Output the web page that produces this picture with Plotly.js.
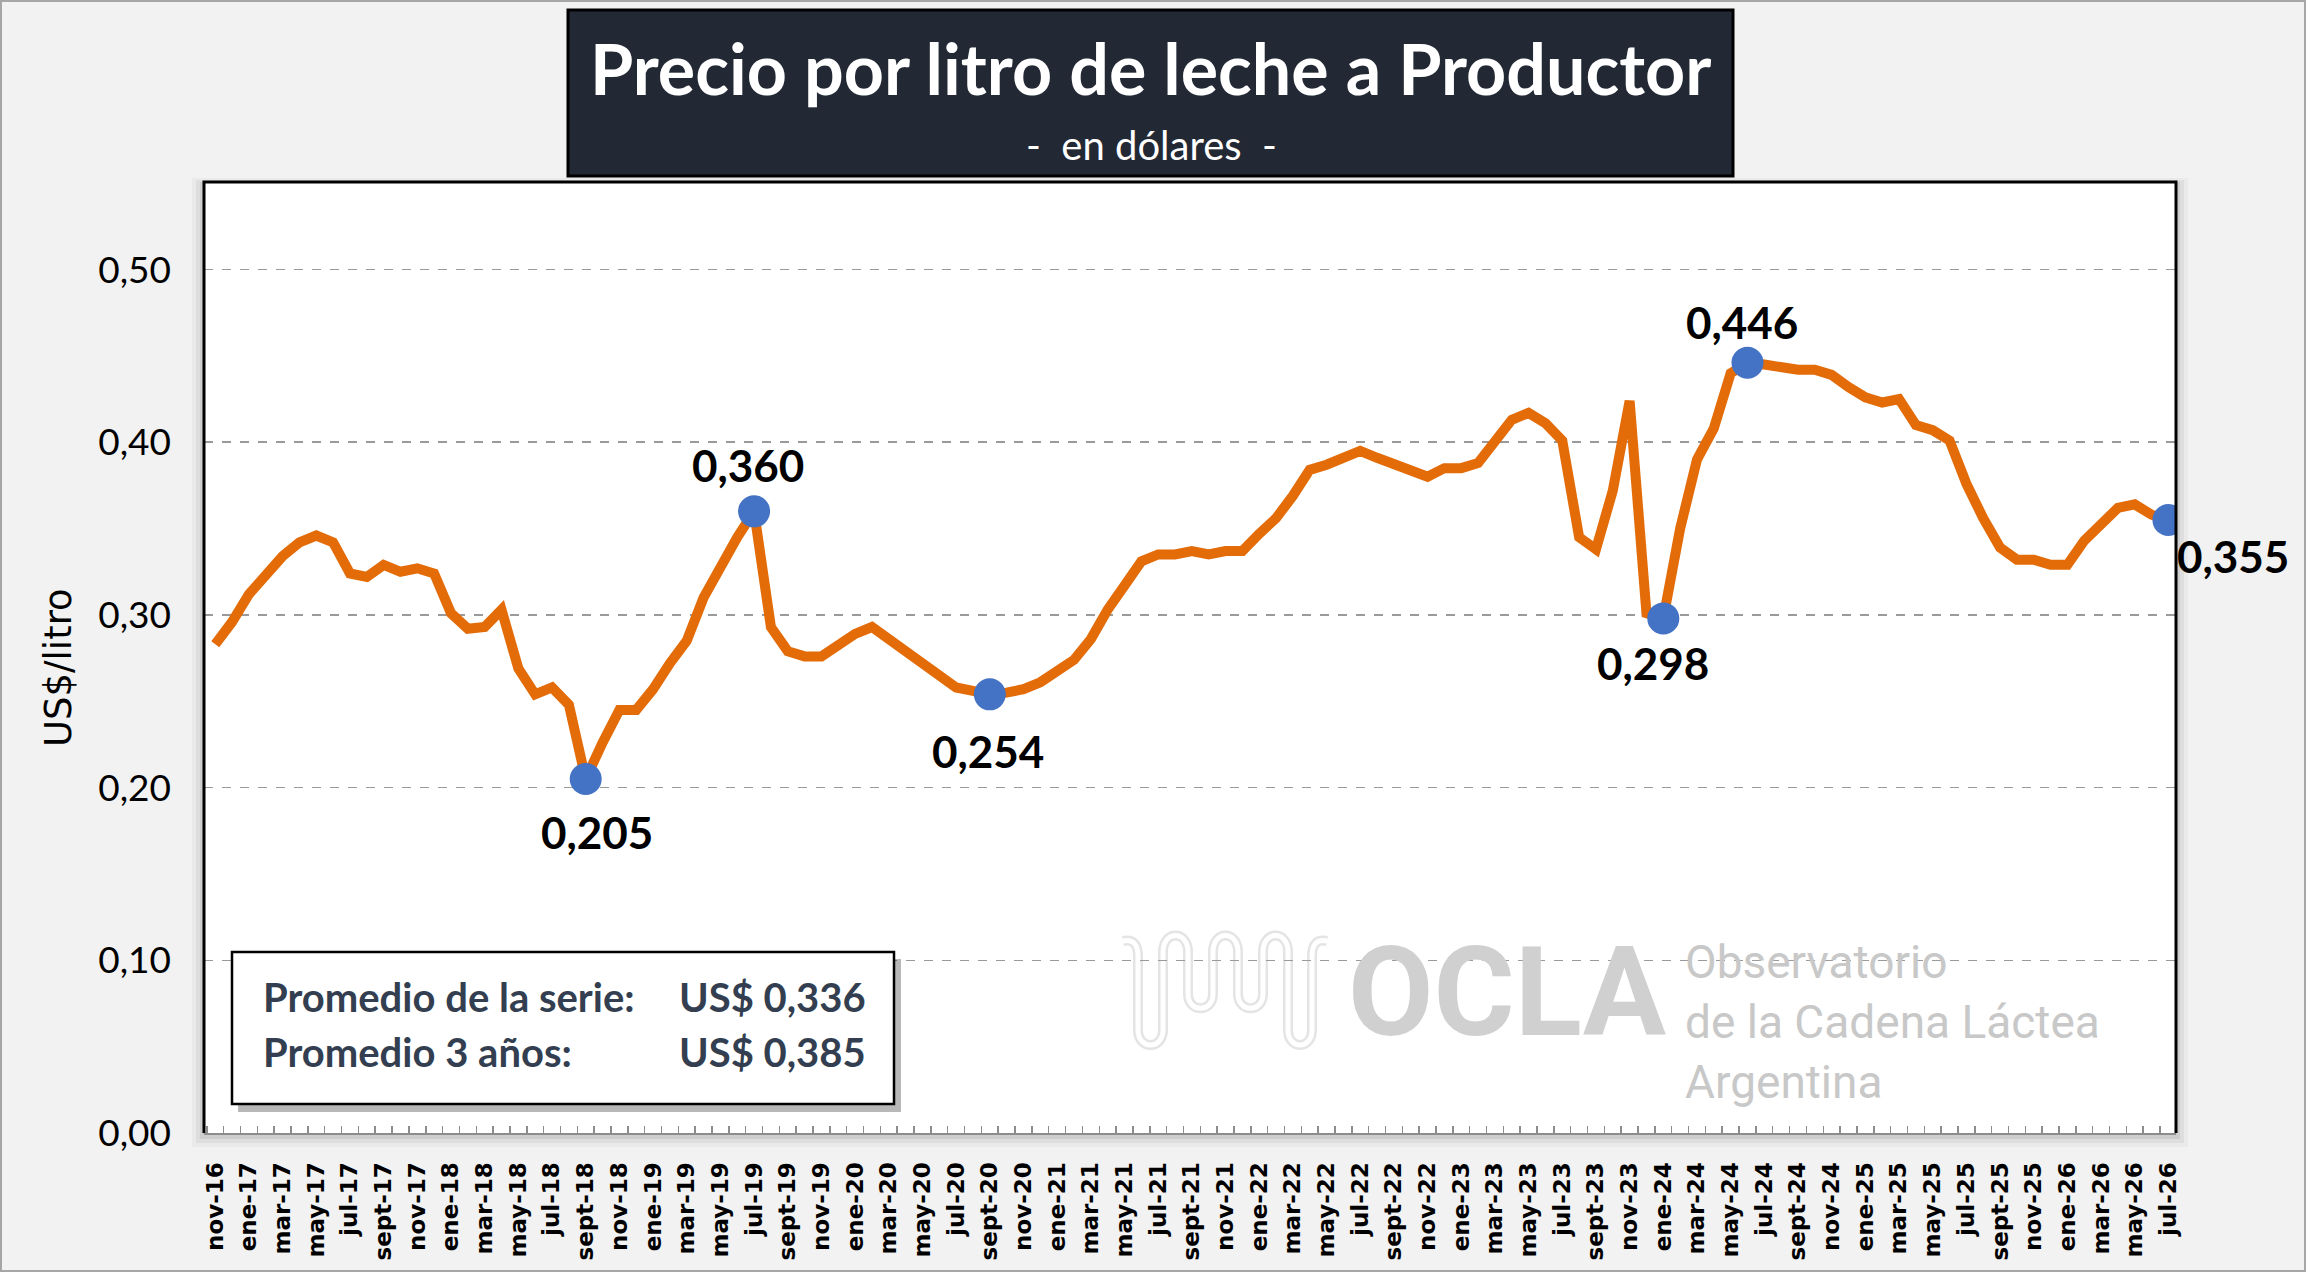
<!DOCTYPE html>
<html>
<head>
<meta charset="utf-8">
<script src="https://cdn.plot.ly/plotly-3.0.1.min.js"></script>
<style>
  html, body { margin: 0; padding: 0; background: #f2f2f2; }
  #chart { width: 2306px; height: 1272px; }
</style>
</head>
<body>
<div id="chart"></div>
<script>
// monthly series, nov-16 .. jul-26 (US$ per litre)
const monthNames = ['ene', 'feb', 'mar', 'abr', 'may', 'jun', 'jul', 'ago', 'sept', 'oct', 'nov', 'dic'];
const startMonth = 10;   // nov
const startYear = 16;
const prices = [
  0.283, 0.296, 0.312, 0.324, 0.334, 0.342, 0.346, 0.342, 0.324, 0.322,
  0.329, 0.325, 0.327, 0.324, 0.301, 0.292, 0.293, 0.303, 0.269, 0.254,
  0.258, 0.248, 0.205, 0.226, 0.245, 0.245, 0.257, 0.272, 0.285, 0.310,
  0.328, 0.345, 0.360, 0.293, 0.279, 0.276, 0.276, 0.282, 0.289, 0.293,
  0.286, 0.278, 0.271, 0.264, 0.258, 0.256, 0.254, 0.255, 0.257, 0.261,
  0.267, 0.274, 0.286, 0.303, 0.317, 0.331, 0.335, 0.335, 0.337, 0.335,
  0.337, 0.337, 0.347, 0.356, 0.369, 0.384, 0.387, 0.391, 0.395, 0.391,
  0.387, 0.384, 0.380, 0.385, 0.385, 0.388, 0.401, 0.413, 0.417, 0.411,
  0.401, 0.345, 0.338, 0.372, 0.424, 0.301, 0.298, 0.350, 0.390, 0.408,
  0.440, 0.446, 0.445, 0.443, 0.442, 0.442, 0.439, 0.432, 0.426, 0.423,
  0.425, 0.410, 0.407, 0.401, 0.376, 0.356, 0.339, 0.332, 0.332, 0.329,
  0.329, 0.343, 0.352, 0.362, 0.364, 0.358, 0.355
];
// points marked with a dot and a value label
const highlightIdx = [22, 32, 46, 86, 91, 116];
const avgLabels = ['Promedio de la serie:', 'Promedio 3 años:'];
const avgValues = ['US$ 0,336', 'US$ 0,385'];
const yTicks = [0, 0.1, 0.2, 0.3, 0.4, 0.5];

const months = prices.map((_, i) => {
  const m = (startMonth + i) % 12;
  const y = startYear + Math.floor((startMonth + i) / 12);
  return monthNames[m] + '-' + y;
});
const tickText = months.map((m, i) => (i % 2 === 0 ? m : ''));

// pixel -> paper helpers for the decoration
const L = 204, R = 2176, T = 182, B = 1133;
const px = x => (x - L) / (R - L);
const py = y => (B - y) / (B - T);
const P = (x, y) => px(x).toFixed(5) + ',' + py(y).toFixed(5);

const fmt = v => v.toFixed(3).replace('.', ',');

const traceLine = {
  x: months, y: prices,
  type: 'scatter', mode: 'lines',
  line: { color: '#E36C09', width: 10 },
  hoverinfo: 'x+y'
};

const traceDots = {
  x: highlightIdx.map(i => months[i]),
  y: highlightIdx.map(i => prices[i]),
  type: 'scatter', mode: 'markers',
  marker: { color: '#4472C4', size: 32 },
  hoverinfo: 'x+y'
};

// label offsets (px) relative to each dot
const labelShift = [[11, -53], [-6, 46], [-2, -57], [-10, -45], [-5, 41], [65, -36]];

const valueLabels = highlightIdx.map((idx, k) => ({
  x: months[idx], y: prices[idx],
  xref: 'x', yref: 'y',
  text: '<b>' + fmt(prices[idx]) + '</b>',
  showarrow: false,
  xshift: labelShift[k][0], yshift: labelShift[k][1],
  font: { family: 'Lato', size: 44, color: '#000' }
}));

const wave = 'M' + P(1123, 941) + ' Q' + P(1138, 938) + ' ' + P(1138, 956) +
  ' L' + P(1138, 1030) + ' C' + P(1138, 1050) + ' ' + P(1163, 1050) + ' ' + P(1163, 1030) +
  ' L' + P(1163, 952) + ' C' + P(1163, 930) + ' ' + P(1188, 930) + ' ' + P(1188, 952) +
  ' L' + P(1188, 994) + ' C' + P(1188, 1013) + ' ' + P(1213, 1013) + ' ' + P(1213, 994) +
  ' L' + P(1213, 952) + ' C' + P(1213, 930) + ' ' + P(1238, 930) + ' ' + P(1238, 952) +
  ' L' + P(1238, 994) + ' C' + P(1238, 1013) + ' ' + P(1263, 1013) + ' ' + P(1263, 994) +
  ' L' + P(1263, 952) + ' C' + P(1263, 930) + ' ' + P(1288, 930) + ' ' + P(1288, 952) +
  ' L' + P(1288, 1030) + ' C' + P(1288, 1050) + ' ' + P(1312, 1050) + ' ' + P(1312, 1030) +
  ' L' + P(1312, 956) + ' Q' + P(1312, 938) + ' ' + P(1327, 941);

const rect = (x0, y0, x1, y1, fill, line, layer) => ({
  type: 'rect', xref: 'paper', yref: 'paper',
  x0: px(x0), x1: px(x1), y0: py(y1), y1: py(y0),
  fillcolor: fill, line: line || { width: 0 }, layer: layer || 'below'
});

const shapes = [
  // outer frame of the picture
  rect(1, 1, 2305, 1271, 'rgba(0,0,0,0)', { color: '#a6a6a6', width: 2 }),
  // soft shadow round the plot area
  rect(L - 12, T - 4, R + 12, B + 14, 'rgba(0,0,0,0.03)'),
  rect(L - 8, T - 2, R + 8, B + 10, 'rgba(0,0,0,0.05)'),
  rect(L - 4, T, R + 4, B + 6, 'rgba(0,0,0,0.07)'),
  rect(L, T, R, B, '#ffffff'),
  // logo wave
  { type: 'path', xref: 'paper', yref: 'paper', path: wave, line: { color: '#e4e4e4', width: 10 }, layer: 'below' },
  { type: 'path', xref: 'paper', yref: 'paper', path: wave, line: { color: '#ffffff', width: 5 }, layer: 'below' },
  // plot frame (top, left, right)
  { type: 'path', xref: 'paper', yref: 'paper', path: 'M0,0 L0,1 L1,1 L1,0', line: { color: '#000', width: 3 }, layer: 'above' },
  // title box
  rect(568, 10, 1733, 176, '#222834', { color: '#000', width: 3 }, 'above'),
  // averages box with shadow
  rect(238, 959, 901, 1112, 'rgba(0,0,0,0.28)', null, 'above'),
  rect(232, 952, 894, 1104, '#ffffff', { color: '#000', width: 2.5 }, 'above')
];

const annotations = [
  { xref: 'paper', yref: 'paper', x: px(1150), y: py(68), text: '<b>Precio por litro de leche a Productor</b>',
    showarrow: false, xanchor: 'center', yanchor: 'middle', font: { family: 'Lato', size: 70, color: '#fff' } },
  { xref: 'paper', yref: 'paper', x: px(1151), y: py(145), text: '-&nbsp; en dólares &nbsp;-',
    showarrow: false, xanchor: 'center', yanchor: 'middle', font: { family: 'Lato', size: 40, color: '#fff' } },
  { xref: 'paper', yref: 'paper', x: px(58), y: py(668), text: 'US$/litro', textangle: -90,
    showarrow: false, xanchor: 'center', yanchor: 'middle', font: { family: 'DejaVu Sans', size: 37, color: '#000' } },
  // watermark
  { xref: 'paper', yref: 'paper', x: px(1346), y: py(992), text: '<b>OCLA</b>',
    showarrow: false, xanchor: 'left', yanchor: 'middle', font: { family: 'Roboto', size: 124, color: '#d0d0d0' } },
  { xref: 'paper', yref: 'paper', x: px(1683), y: py(1022), text: 'Observatorio<br>de la Cadena Láctea<br>Argentina',
    showarrow: false, xanchor: 'left', yanchor: 'middle', align: 'left',
    font: { family: 'Roboto', size: 46, color: '#c8c8c8' } }
];

avgLabels.forEach((lab, k) => {
  const yy = k === 0 ? 997 : 1052;
  annotations.push({ xref: 'paper', yref: 'paper', x: px(261), y: py(yy), text: '<b>' + lab + '</b>',
    showarrow: false, xanchor: 'left', yanchor: 'middle', font: { family: 'Lato', size: 40, color: '#333F50' } });
  annotations.push({ xref: 'paper', yref: 'paper', x: px(677), y: py(yy), text: '<b>' + avgValues[k] + '</b>',
    showarrow: false, xanchor: 'left', yanchor: 'middle', font: { family: 'Lato', size: 40, color: '#333F50' } });
});

const layout = {
  width: 2306, height: 1272,
  paper_bgcolor: '#f2f2f2',
  plot_bgcolor: 'rgba(0,0,0,0)',
  separators: ',.',
  margin: { l: L, r: 2306 - R, t: T, b: 1272 - B, pad: 0 },
  showlegend: false,
  xaxis: {
    type: 'category',
    range: [-0.67, 116.45],
    tickvals: months, ticktext: tickText,
    tickangle: -90,
    tickfont: { family: 'DejaVu Sans', size: 23, color: '#000', weight: 'bold' },
    ticks: 'inside', ticklen: 7, tickwidth: 1.5, tickcolor: '#8c8c8c',
    tickson: 'boundaries',
    ticklabelstandoff: 18,
    showgrid: false, zeroline: false,
    showline: true, linecolor: '#8c8c8c', linewidth: 2,
    fixedrange: true
  },
  yaxis: {
    range: [0, 0.5507],
    tickvals: yTicks, tickformat: '.2f',
    tickfont: { family: 'Lato', size: 37, color: '#000' },
    ticks: '', ticklabelstandoff: 32,
    showgrid: true, gridcolor: '#9a9a9a', gridwidth: 1.5, griddash: 'dash',
    zeroline: false, showline: false,
    fixedrange: true
  },
  shapes: shapes,
  annotations: annotations.concat(valueLabels)
};

Plotly.newPlot('chart', [traceLine, traceDots], layout, { displayModeBar: false, staticPlot: true });
</script>
</body>
</html>
